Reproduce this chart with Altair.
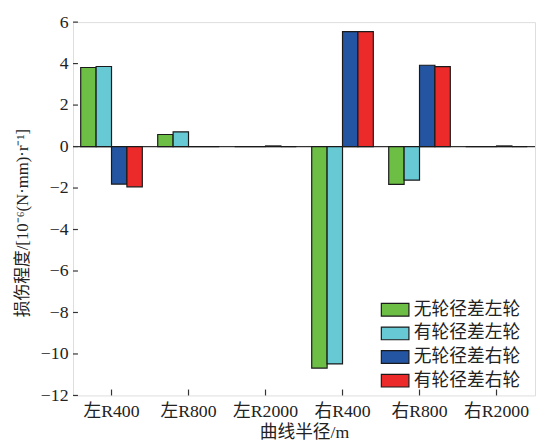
import altair as alt
import pandas as pd

categories = ["左R400", "左R800", "左R2000", "右R400", "右R800", "右R2000"]
series = ["无轮径差左轮", "有轮径差左轮", "无轮径差右轮", "有轮径差右轮"]
no_diff_left = [3.81, 0.58, 0.0, -10.68, -1.82, 0.0]
diff_left = [3.86, 0.71, 0.0, -10.48, -1.62, 0.0]
no_diff_right = [-1.81, 0.0, 0.03, 5.54, 3.92, 0.03]
diff_right = [-1.94, 0.0, 0.0, 5.54, 3.85, 0.0]
colors = ["#6cbe45", "#66c9d4", "#2455a2", "#ec2a2a"]
y_ticks = [-12, -10, -8, -6, -4, -2, 0, 2, 4, 6]

W, H = 469, 379
FONT = "'Liberation Serif', 'Times New Roman', 'Noto Sans CJK SC', serif"
FS = 18

rows = []
for s, vals in zip(series, [no_diff_left, diff_left, no_diff_right, diff_right]):
    for c, v in zip(categories, vals):
        rows.append({"cat": c, "series": s, "value": v})
df = pd.DataFrame(rows)
cat_df = pd.DataFrame({"cat": categories})
tick_df = pd.DataFrame({"value": y_ticks})
zero_df = pd.DataFrame({"value": [0]})

x_enc = alt.X(
    "cat:N", sort=categories,
    scale=alt.Scale(paddingInner=0.2, paddingOuter=0.1),
    axis=alt.Axis(title="曲线半径/m", labelAngle=0, ticks=False, domain=False,
                  labelFontSize=FS, labelPadding=7, titleFontSize=FS,
                  titlePadding=4, labelColor="#222", titleColor="#222",
                  labelFont=FONT, titleFont=FONT, titleFontWeight="normal"),
)
y_enc = alt.Y(
    "value:Q", scale=alt.Scale(domain=[-12, 6], nice=False, zero=False),
    axis=alt.Axis(title="损伤程度/[10⁻⁶(N·mm)·r⁻¹]", values=y_ticks, ticks=False,
                  domain=False, grid=False, labelFontSize=FS, labelPadding=5,
                  titleFontSize=17, titlePadding=9, titleY=H / 2 + 14,
                  labelColor="#222", titleColor="#222", labelFont=FONT,
                  titleFont=FONT, titleFontWeight="normal"),
)

zero = alt.Chart(zero_df).mark_rule(color="#333", strokeWidth=1.2).encode(y="value:Q")

bars = alt.Chart(df).mark_bar(stroke="#1a1a1a", strokeWidth=1.2, opacity=1).encode(
    x=x_enc,
    xOffset=alt.XOffset("series:N", sort=series),
    y=y_enc,
    color=alt.Color(
        "series:N", sort=series,
        scale=alt.Scale(domain=series, range=colors),
        legend=alt.Legend(
            title=None, orient="none", legendX=312, legendY=277,
            symbolType="M-1,-0.46H1V0.46H-1Z", symbolSize=784,
            symbolStrokeColor="#1a1a1a", symbolStrokeWidth=1.2, symbolOpacity=1,
            labelFontSize=FS, labelFont=FONT, labelOffset=4, rowPadding=0,
            labelColor="#222",
        ),
    ),
)

xticks = alt.Chart(cat_df).mark_rule(color="#333", strokeWidth=1.2).encode(
    x=alt.X("cat:N", sort=categories, bandPosition=0.5),
    y=alt.value(H), y2=alt.value(H - 6),
)
yticks = alt.Chart(tick_df).mark_rule(color="#333", strokeWidth=1.2).encode(
    y="value:Q", x=alt.value(0), x2=alt.value(5),
)

chart = alt.layer(zero, bars, xticks, yticks).properties(
    width=W, height=H,
    autosize=alt.AutoSizeParams(type="none"),
    padding={"left": 66, "top": 11, "right": 1, "bottom": 48},
).configure_axis(
    labelFont=FONT, titleFont=FONT,
).configure_legend(
    labelFont=FONT,
).configure_view(
    stroke="#333", strokeWidth=1.5,
).configure(background="white")

chart.save("out.html", embed_options={"renderer": "svg", "actions": False})
